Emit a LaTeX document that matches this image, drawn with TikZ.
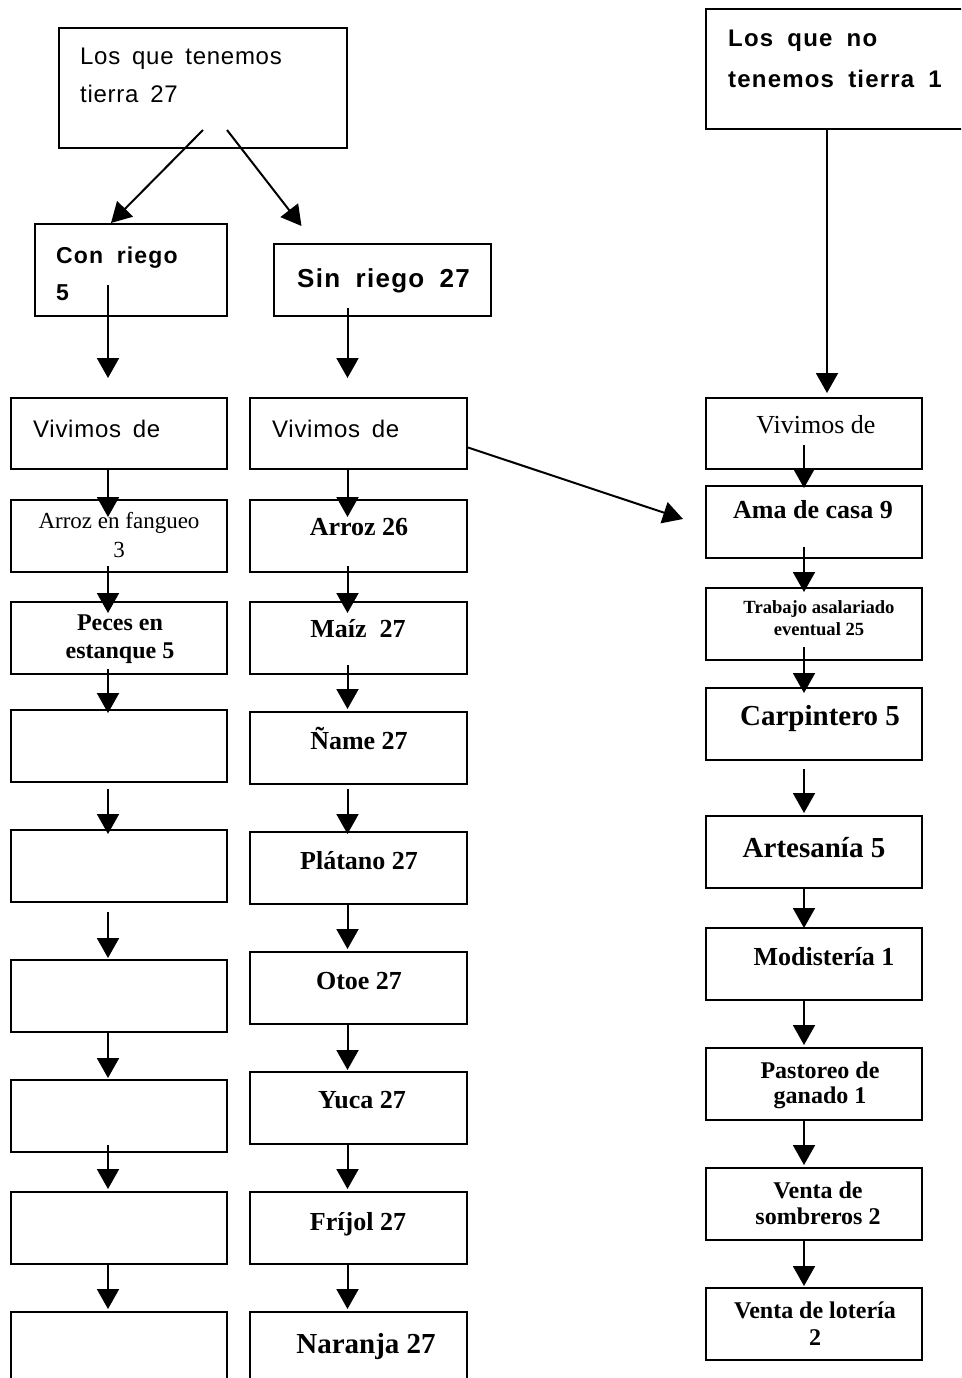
\documentclass[tikz,border=0pt]{standalone}
\usepackage{fontspec}
\setmainfont{Liberation Serif}
\newfontfamily\rotulo[LetterSpace=3,WordSpace=1.6,
  BoldFeatures={LetterSpace=5,WordSpace=1.8}]{Liberation Sans}
\usetikzlibrary{arrows.meta,calc}

\tikzset{
  caja/.style={draw, line width=2pt, anchor=north west, inner sep=0pt,
    minimum width=216pt, minimum height=72pt},
  texto/.style={inner sep=0pt, anchor=base, align=center},
  izq/.style={inner sep=0pt, anchor=base west, align=left},
  flecha/.style={line width=2pt, -{Triangle[width=22pt,length=20pt]}}
}

\begin{document}
\begin{tikzpicture}[x=1pt,y=-1pt]
\useasboundingbox (0,0) rectangle (961,1378);
\clip (0,0) rectangle (961,1378);

% cajas de arriba
\node[caja, minimum width=288pt, minimum height=120pt] (tierra) at (58,27) {};
\node[caja, minimum width=192pt, minimum height=92pt] (conriego) at (34,223) {};
\node[caja, minimum width=217pt] (sinriego) at (273,243) {};
\node[caja, minimum width=270pt, minimum height=120pt] (notierra) at (705,8) {};

% columna con riego
\node[caja, minimum height=71pt] (viv1) at (10,397) {};
\node[caja] (fangueo) at (10,499) {};
\node[caja] (peces) at (10,601) {};
\node[caja] (v1) at (10,709) {};
\node[caja] (v2) at (10,829) {};
\node[caja] (v3) at (10,959) {};
\node[caja] (v4) at (10,1079) {};
\node[caja] (v5) at (10,1191) {};
\node[caja, minimum height=90pt] (v6) at (10,1311) {};

% columna sin riego
\node[caja, minimum width=217pt, minimum height=71pt] (viv2) at (249,397) {};
\node[caja, minimum width=217pt] (arroz) at (249,499) {};
\node[caja, minimum width=217pt] (maiz) at (249,601) {};
\node[caja, minimum width=217pt] (name) at (249,711) {};
\node[caja, minimum width=217pt] (platano) at (249,831) {};
\node[caja, minimum width=217pt] (otoe) at (249,951) {};
\node[caja, minimum width=217pt] (yuca) at (249,1071) {};
\node[caja, minimum width=217pt] (frijol) at (249,1191) {};
\node[caja, minimum width=217pt, minimum height=90pt] (naranja) at (249,1311) {};

% columna sin tierra
\node[caja, minimum height=71pt] (viv3) at (705,397) {};
\node[caja] (ama) at (705,485) {};
\node[caja] (trabajo) at (705,587) {};
\node[caja] (carpintero) at (705,687) {};
\node[caja] (artesania) at (705,815) {};
\node[caja] (modisteria) at (705,927) {};
\node[caja] (pastoreo) at (705,1047) {};
\node[caja] (sombreros) at (705,1167) {};
\node[caja] (loteria) at (705,1287) {};

% textos (en los de dos lineas, la base es la de la ultima)
\node[izq, font=\rotulo\fontsize{24}{38}\selectfont] (t-tierra) at (80,103) {Los que tenemos\\tierra 27};
\node[izq, font=\rotulo\bfseries\fontsize{23}{37}\selectfont] (t-conriego) at (56,300) {Con riego\\5};
\node[izq, font=\rotulo\bfseries\fontsize{26}{31}\selectfont] (t-sinriego) at (297,287) {Sin riego 27};
\node[izq, font=\rotulo\bfseries\fontsize{24}{41}\selectfont] (t-notierra) at (728,88) {Los que no\\tenemos tierra 1};
\node[izq, font=\rotulo\fontsize{24}{29}\selectfont] (t-viv1) at (33,437) {Vivimos de};
\node[izq, font=\rotulo\fontsize{24}{29}\selectfont] (t-viv2) at (272,437) {Vivimos de};

\node[texto, font=\fontsize{23}{29}\selectfont] (t-fangueo) at (119,557) {Arroz en fangueo\\3};
\node[texto, font=\bfseries\fontsize{24}{28}\selectfont] (t-peces) at (120,658) {Peces en\\estanque 5};

\node[texto, font=\bfseries\fontsize{26}{31}\selectfont] (t-arroz) at (359,535) {Arroz 26};
\node[texto, font=\bfseries\fontsize{26}{31}\selectfont] (t-maiz) at (358,637) {Maíz\ \ 27};
\node[texto, font=\bfseries\fontsize{26}{31}\selectfont] (t-name) at (359,749) {Ñame 27};
\node[texto, font=\bfseries\fontsize{26}{31}\selectfont] (t-platano) at (359,869) {Plátano 27};
\node[texto, font=\bfseries\fontsize{26}{31}\selectfont] (t-otoe) at (359,989) {Otoe 27};
\node[texto, font=\bfseries\fontsize{26}{31}\selectfont] (t-yuca) at (362,1108) {Yuca 27};
\node[texto, font=\bfseries\fontsize{26}{31}\selectfont] (t-frijol) at (358,1230) {Fríjol 27};
\node[texto, font=\bfseries\fontsize{29}{34}\selectfont] (t-naranja) at (366,1353) {Naranja 27};

\node[texto, font=\fontsize{26}{31}\selectfont] (t-viv3) at (816,433) {Vivimos de};
\node[texto, font=\bfseries\fontsize{26}{31}\selectfont] (t-ama) at (813,518) {Ama de casa 9};
\node[texto, font=\bfseries\fontsize{18.6}{22}\selectfont] (t-trabajo) at (819,635) {Trabajo asalariado\\eventual 25};
\node[texto, font=\bfseries\fontsize{29}{34}\selectfont] (t-carpintero) at (820,725) {Carpintero 5};
\node[texto, font=\bfseries\fontsize{29}{34}\selectfont] (t-artesania) at (814,857) {Artesanía 5};
\node[texto, font=\bfseries\fontsize{26}{31}\selectfont] (t-modisteria) at (824,965) {Modistería 1};
\node[texto, font=\bfseries\fontsize{24}{25}\selectfont] (t-pastoreo) at (820,1103) {Pastoreo de\\ganado 1};
\node[texto, font=\bfseries\fontsize{24}{26}\selectfont] (t-sombreros) at (818,1224) {Venta de\\sombreros 2};
\node[texto, font=\bfseries\fontsize{24}{27}\selectfont] (t-loteria) at (815,1345) {Venta de lotería\\2};

% flechas de arriba
\draw[flecha] ($(tierra.south)+(0,-19)$) -- ($(conriego.north)+(-20,0)$);
\draw[flecha] ($(tierra.south)+(24,-19)$) -- ($(sinriego.north)+(-81,-17)$);
\draw[flecha] ($(viv2.east)+(0,14)$) -- ($(ama.west)+(-22,-3)$);

% flechas verticales
\foreach \a/\b/\d/\s/\e in {conriego/viv1/-11/-32/-19, viv1/fangueo/-11/0/18,
    fangueo/peces/-11/-7/12, peces/v1/-11/-6/4, v1/v2/-11/6/5, v2/v3/-11/9/-1,
    v3/v4/-11/0/-1, v4/v5/-11/-8/-2, v5/v6/-11/0/-2,
    sinriego/viv2/-11/-9/-19, viv2/arroz/-11/0/18, arroz/maiz/-11/-7/12,
    maiz/name/-11/-10/-2, name/platano/-11/4/3, platano/otoe/-11/0/-2,
    otoe/yuca/-11/0/-1, yuca/frijol/-11/0/-2, frijol/naranja/-11/0/-2,
    notierra/viv3/13/0/-4, viv3/ama/-10/-25/3, ama/trabajo/-10/-12/5,
    trabajo/carpintero/-10/-14/6, carpintero/artesania/-10/8/-2,
    artesania/modisteria/-10/0/1, modisteria/pastoreo/-10/0/-2,
    pastoreo/sombreros/-10/0/-2, sombreros/loteria/-10/0/-1}
  \draw[flecha] ($(\a.south -| \b.north)+(\d,\s)$) -- ($(\b.north)+(\d,\e)$);
\end{tikzpicture}
\end{document}
